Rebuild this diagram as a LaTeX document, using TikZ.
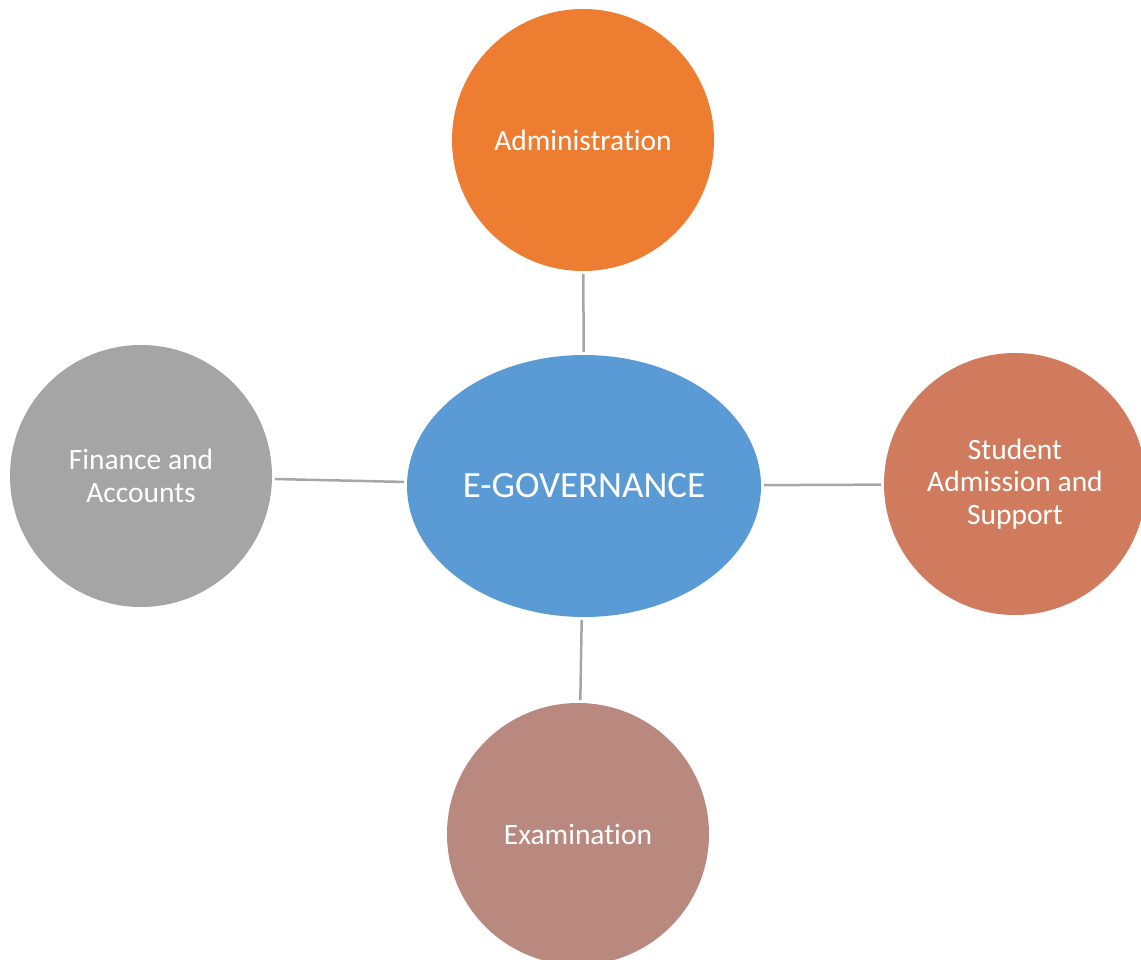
\documentclass[tikz,border=0pt]{standalone}
\usepackage{fontspec}
\setmainfont{Carlito}[Ligatures={NoCommon}]
\usetikzlibrary{shapes.geometric}
\definecolor{govblue}{HTML}{5B9BD5}
\definecolor{adminorange}{HTML}{ED7D31}
\definecolor{studentred}{HTML}{D17B5E}
\definecolor{financegray}{HTML}{A5A5A5}
\definecolor{exambrown}{HTML}{B9897F}
\definecolor{linkgray}{HTML}{A6A6A6}
\begin{document}
\begin{tikzpicture}[x=1pt, y=-1pt,
    topic/.style={circle, minimum size=262pt, inner sep=0pt, outer sep=3pt,
        text=white, align=center, font=\fontsize{29.5}{32.5}\selectfont},
    hub/.style={ellipse, minimum width=354pt, minimum height=262pt, inner sep=0pt,
        outer sep=3pt, fill=govblue, text=white, font=\fontsize{37}{42}\selectfont},
    link/.style={draw=linkgray, line width=2.5pt}]
    \useasboundingbox (0,0) rectangle (1141,960);
    % Centre
    \node[hub] (gov) at (584,486) {E-GOVERNANCE};
    % Departments round it
    \node[topic, fill=adminorange] (admin) at (583,140) {Administration};
    \node[topic, fill=studentred] (student) at (1015,484) {Student\\Admission and\\Support};
    \node[topic, fill=financegray] (finance) at (141,476) {Finance and\\Accounts};
    \node[topic, fill=exambrown] (exam) at (578,834) {Examination};
    % Links
    \foreach \n in {admin,student,finance,exam} {
        \draw[link] (gov) -- (\n);
    }
\end{tikzpicture}
\end{document}
